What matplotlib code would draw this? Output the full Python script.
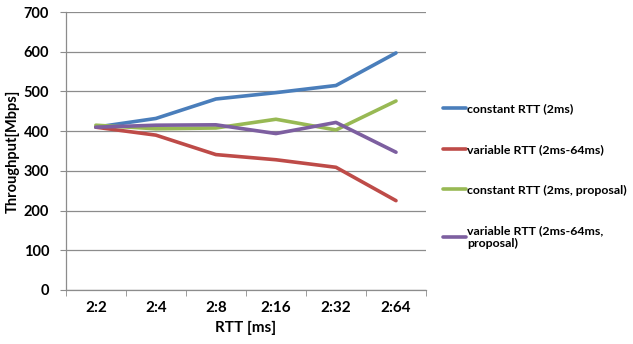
import numpy as np
import matplotlib.pyplot as plt

# RTT ratio categories and throughput in Mbps
rtt_labels = ['2:2', '2:4', '2:8', '2:16', '2:32', '2:64']
const_rtt = [410, 432, 481, 497, 515, 597]
var_rtt = [410, 390, 341, 328, 309, 225]
const_rtt_prop = [415, 406, 408, 430, 403, 476]
var_rtt_prop = [410, 415, 416, 394, 422, 347]

series = [
    (const_rtt, '#4A7EBB', 'constant RTT (2ms)'),
    (var_rtt, '#BE4B48', 'variable RTT (2ms-64ms)'),
    (const_rtt_prop, '#98B954', 'constant RTT (2ms, proposal)'),
    (var_rtt_prop, '#7D5FA0', 'variable RTT (2ms-64ms,\nproposal)'),
]

plt.rcParams['font.family'] = ['Lato', 'DejaVu Sans']
plt.rcParams['font.weight'] = 'bold'

fig = plt.figure(figsize=(6.33, 3.44), dpi=100)
ax = fig.add_axes([0.104, 0.157, 0.569, 0.808])

x = np.arange(len(rtt_labels))
for vals, col, name in series:
    ax.plot(x, vals, color=col, lw=2.6, label=name, solid_capstyle='round')

ax.set_xlim(-0.5, len(rtt_labels) - 0.5)
ax.set_ylim(0, 700)
ax.set_yticks(range(0, 701, 100))
ax.set_xticks(x)
ax.set_xticklabels(rtt_labels)
ax.set_xticks(np.arange(-0.5, len(rtt_labels), 1), minor=True)
ax.grid(axis='y', color='#8C8C8C', lw=0.9)
ax.set_axisbelow(True)

for s in ['top', 'right']:
    ax.spines[s].set_visible(False)
for s in ['left', 'bottom']:
    ax.spines[s].set_color('#8C8C8C')
    ax.spines[s].set_linewidth(0.9)

ax.tick_params(axis='y', length=4, color='#8C8C8C', labelsize=10.5, pad=8)
ax.tick_params(axis='x', which='major', length=0, labelsize=11, pad=8)
ax.tick_params(axis='x', which='minor', length=4, color='#8C8C8C')

ax.set_ylabel('Throughput[Mbps]', fontsize=10.5, fontweight='bold')
ax.yaxis.set_label_coords(-0.127, 0.5)
ax.set_xlabel('RTT [ms]', fontsize=11, fontweight='bold', labelpad=4)

fig.legend(loc='upper left', bbox_to_anchor=(0.692, 0.714), frameon=False,
           fontsize=8.9, handlelength=1.85, handletextpad=0.1,
           labelspacing=2.4, borderaxespad=0)

fig.savefig('out.png', dpi=100)
